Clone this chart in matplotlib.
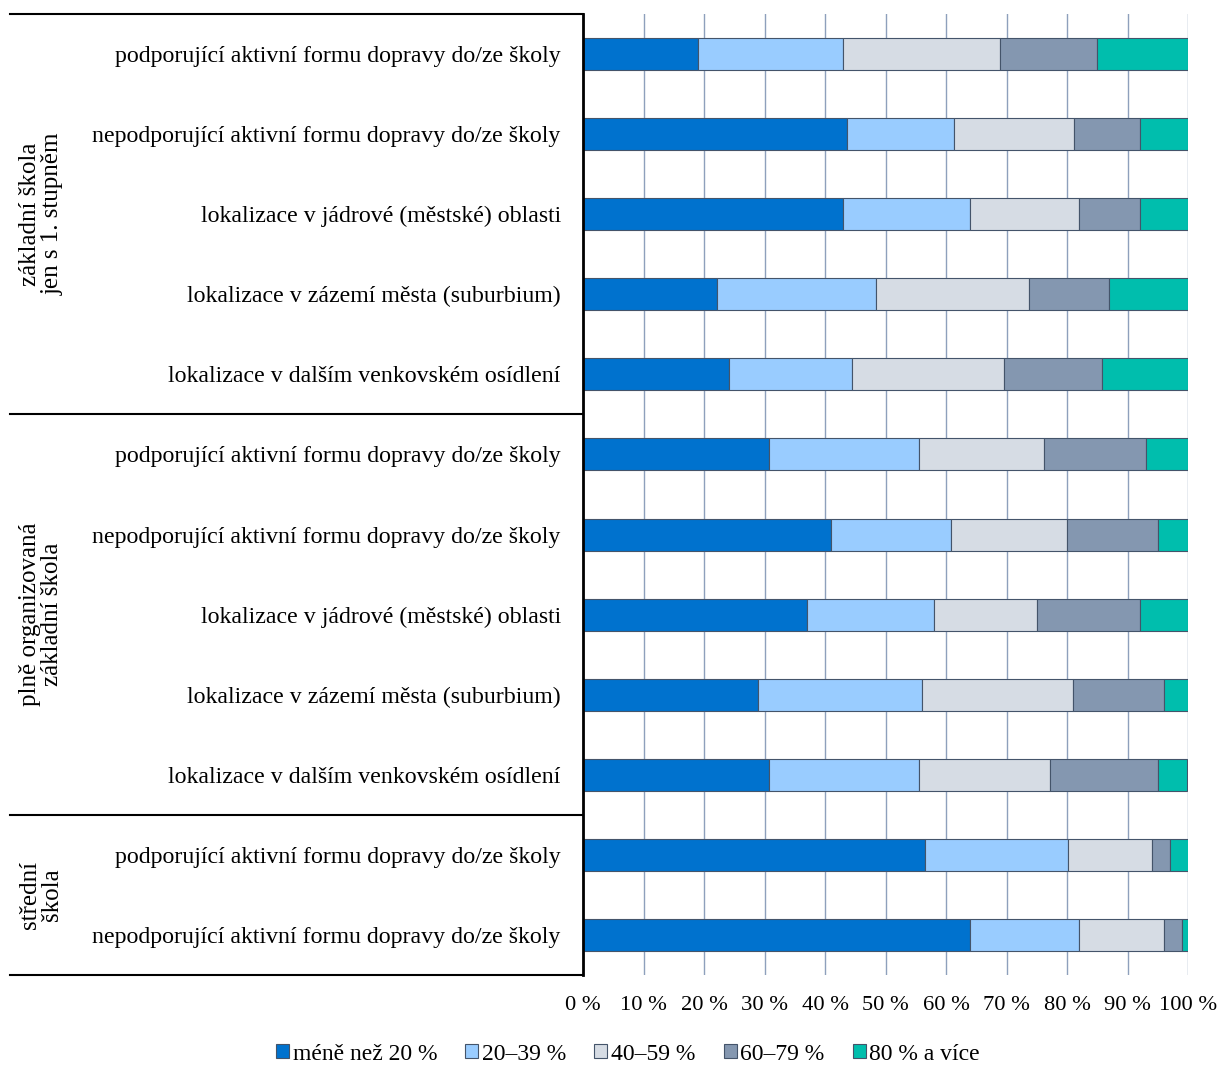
import numpy as np
import matplotlib.pyplot as plt
from matplotlib.transforms import blended_transform_factory
from matplotlib.lines import Line2D
from matplotlib.patches import Patch

plt.rcParams['font.family'] = ['Liberation Serif', 'DejaVu Serif']

categories = [
    "podporující aktivní formu dopravy do/ze školy",
    "nepodporující aktivní formu dopravy do/ze školy",
    "lokalizace v jádrové (městské) oblasti",
    "lokalizace v zázemí města (suburbium)",
    "lokalizace v dalším venkovském osídlení",
    "podporující aktivní formu dopravy do/ze školy",
    "nepodporující aktivní formu dopravy do/ze školy",
    "lokalizace v jádrové (městské) oblasti",
    "lokalizace v zázemí města (suburbium)",
    "lokalizace v dalším venkovském osídlení",
    "podporující aktivní formu dopravy do/ze školy",
    "nepodporující aktivní formu dopravy do/ze školy",
]

groups = ["základní škola\njen s 1. stupněm",
          "plně organizovaná\nzákladní škola",
          "střední\nškola"]
group_sizes = [5, 5, 2]

series_names = ["méně než 20 %", "20–39 %", "40–59 %", "60–79 %", "80 % a více"]

under20 = [19.0, 43.6, 43.0, 22.2, 24.2, 30.8, 41.0, 37.0, 29.0, 30.8, 56.5, 64.0]
p20_39 = [24.0, 17.7, 21.0, 26.2, 20.2, 24.7, 19.9, 21.0, 27.0, 24.7, 23.7, 18.0]
p40_59 = [26.0, 19.9, 18.0, 25.3, 25.2, 20.7, 19.1, 17.0, 25.0, 21.7, 13.9, 14.0]
p60_79 = [16.0, 10.9, 10.0, 13.2, 16.2, 16.9, 15.0, 17.0, 15.0, 17.8, 3.0, 3.0]
over80 = [15.0, 7.9, 8.0, 13.1, 14.2, 6.9, 5.0, 8.0, 4.0, 4.9, 3.0, 1.0]

colors = ["#0072CE", "#99CCFF", "#D6DCE4", "#8497B0", "#00BEAD"]
edge = "#44546A"

fig = plt.figure(figsize=(12.2, 10.66), dpi=100)
ax = fig.add_axes([583 / 1220, 1 - 975 / 1066, 605 / 1220, 961 / 1066])

y = np.arange(len(categories))
left = np.zeros(len(categories))
for vals, col, name in zip([under20, p20_39, p40_59, p60_79, over80], colors, series_names):
    ax.barh(y, vals, left=left, height=0.4, color=col, edgecolor=edge,
            linewidth=0.8, label=name, zorder=3)
    left += np.array(vals)

ax.set_xlim(0, 100)
ax.set_ylim(len(categories) - 0.5, -0.5)
ax.set_xticks(np.arange(0, 101, 10))
ax.set_xticklabels([f"{v} %" for v in range(0, 101, 10)])
ax.set_yticks(y)
ax.set_yticklabels(categories)
ax.tick_params(axis='y', length=0, pad=16, labelsize=17.2)
ax.tick_params(axis='x', length=0, pad=15, labelsize=16.2)
ax.grid(axis='x', color="#8EA0BC", linewidth=1.0, zorder=0)
for s in ['top', 'right', 'bottom']:
    ax.spines[s].set_visible(False)
ax.spines['left'].set_color('black')
ax.spines['left'].set_linewidth(2)
ax.spines['left'].set_zorder(5)

# category table on the left: separators and rotated group names
trans = blended_transform_factory(fig.transFigure, ax.transData)
bounds = np.concatenate([[0], np.cumsum(group_sizes)]) - 0.5
for b in bounds:
    fig.add_artist(Line2D([10 / 1220, 583 / 1220], [b, b], transform=trans,
                          color='black', linewidth=1.5))
for name, lo, hi in zip(groups, bounds[:-1], bounds[1:]):
    fig.text(41 / 1220, (lo + hi) / 2, name, transform=trans, rotation=90,
             ha='center', va='center', fontsize=18, linespacing=1.05)

handles = [Patch(facecolor=c, edgecolor=edge, linewidth=0.8) for c in colors]
fig.legend(handles, series_names, loc='center', bbox_to_anchor=(628 / 1220, 1 - 1054 / 1066),
           ncol=5, frameon=False, fontsize=17, handlelength=0.55, handleheight=0.55,
           handletextpad=0.15, columnspacing=1.2)

fig.savefig("out.png", dpi=100)
